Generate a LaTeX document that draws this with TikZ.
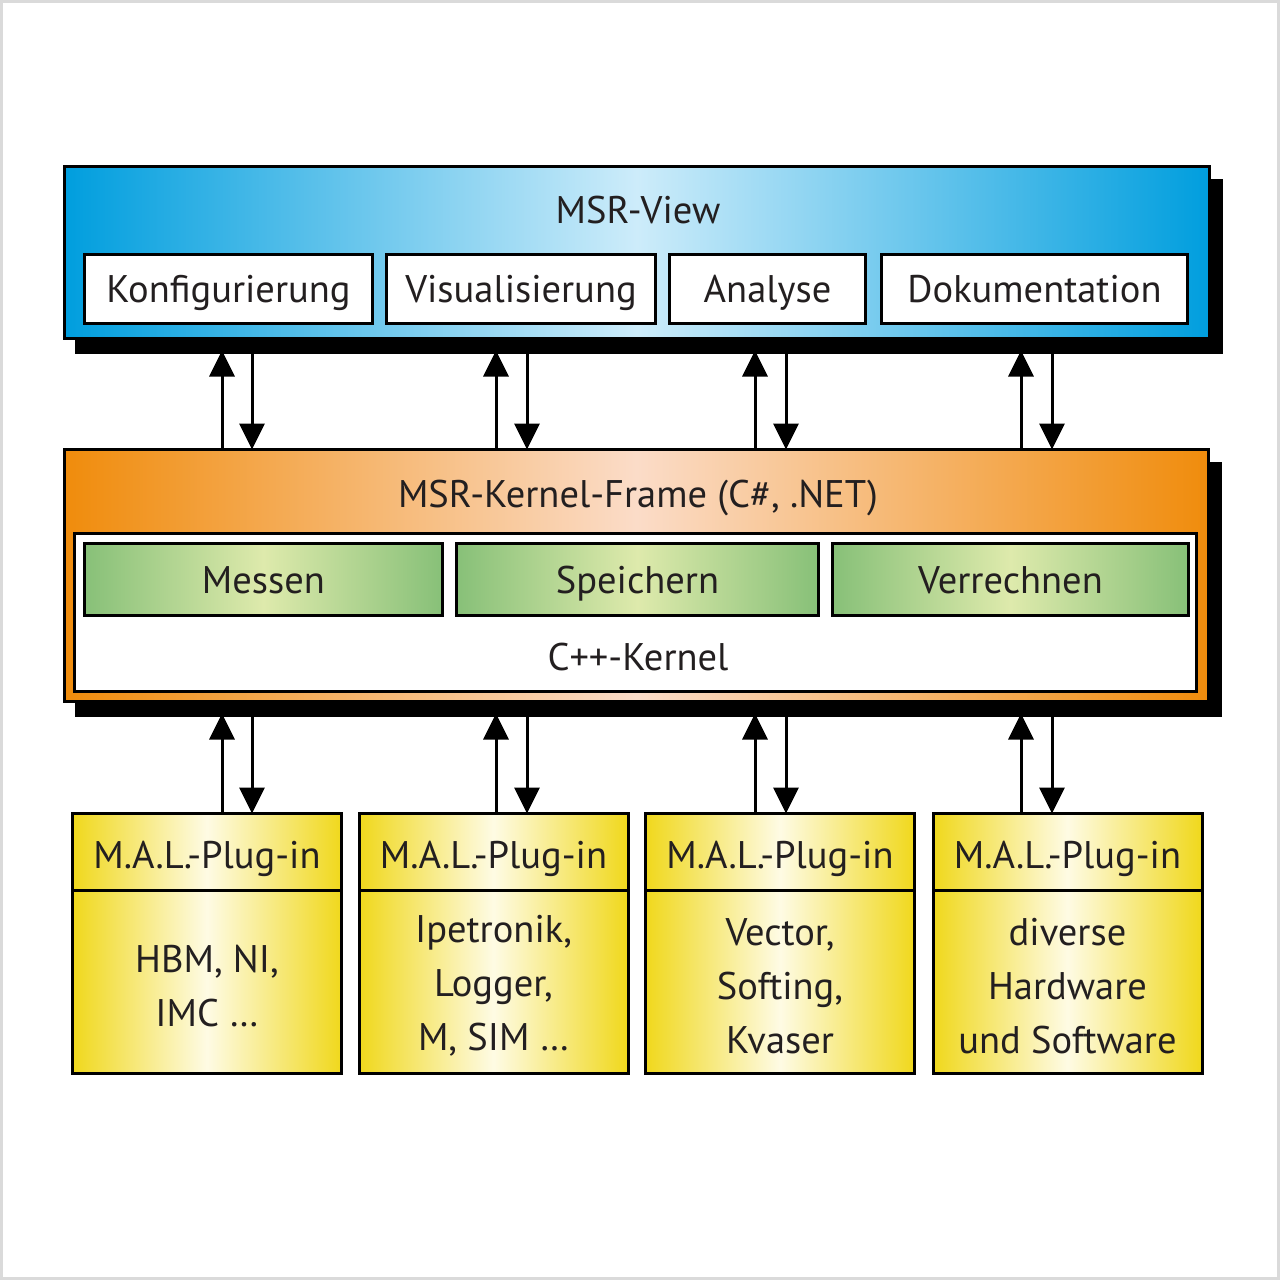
\documentclass[tikz,border=0pt]{standalone}
\usepackage{fontspec}
\setmainfont{PT Sans}
\usetikzlibrary{arrows.meta,positioning,shadows}
\definecolor{ink}{RGB}{35,31,32}
\definecolor{frameG}{RGB}{218,218,218}
\definecolor{blueD}{RGB}{0,158,222}
\definecolor{blueL}{RGB}{205,236,250}
\definecolor{orD}{RGB}{240,140,12}
\definecolor{orL}{RGB}{251,220,200}
\definecolor{grD}{RGB}{135,192,120}
\definecolor{grL}{RGB}{222,234,172}
\definecolor{yeD}{RGB}{240,216,28}
\definecolor{yeL}{RGB}{254,251,228}
\tikzset{
  box/.style={draw=black, line width=3pt, inner sep=0pt, outer sep=0pt},
  shadowed/.style={general shadow={fill=black, draw=black, line width=3pt,
      shadow xshift=12pt, shadow yshift=-14pt}},
  viewbox/.style={box, shadowed, left color=blueD, right color=blueD, middle color=blueL},
  kernbox/.style={box, shadowed, left color=orD, right color=orD, middle color=orL},
  funcbox/.style={box, left color=grD, right color=grD, middle color=grL},
  plugbox/.style={box, left color=yeD, right color=yeD, middle color=yeL},
  whitebox/.style={box, fill=white},
  txt/.style={font=\fontsize{38.5}{54}\selectfont, text=ink, align=center},
  one/.style={txt, text height=27pt, text depth=0pt},
  arr/.style={line width=3pt, draw=black, -{Triangle[width=25pt,length=26pt]}}
}
\begin{document}
\begin{tikzpicture}[x=1pt,y=-1pt]
  \useasboundingbox (0,0) rectangle (1280,1280);
  \draw[frameG, line width=6pt] (0,0) rectangle (1280,1280);

  % top layer
  \node[viewbox, minimum width=1145pt, minimum height=172pt] (view) at (637,252.5) {};
  \node[one] (viewlbl) at (638,210) {MSR-View};
  \node[whitebox, one, minimum width=288pt, minimum height=69pt] (konf) at (228.5,289) {Konfigurierung};
  \node[whitebox, one, minimum width=269pt, minimum height=69pt] (visu) at (521,289) {Visualisierung};
  \node[whitebox, one, minimum width=196pt, minimum height=69pt] (anal) at (767.5,289) {Analyse};
  \node[whitebox, one, minimum width=306pt, minimum height=69pt] (doku) at (1034.5,289) {Dokumentation};

  % kernel frame
  \node[kernbox, minimum width=1144pt, minimum height=252pt] (kernel) at (636.5,575.5) {};
  \node[one] (kernlbl) at (638,494) {MSR-Kernel-Frame (C\#, .NET)};
  \node[whitebox, minimum width=1122pt, minimum height=158pt] (cpp) at (635.5,612.5) {};
  \node[one] (cpplbl) at (638,657) {C++-Kernel};
  \node[funcbox, one, minimum width=358pt, minimum height=72pt] (mess) at (263.5,579.5) {Messen};
  \node[funcbox, one, minimum width=362pt, minimum height=72pt] (spei) at (637.5,579.5) {Speichern};
  \node[funcbox, one, minimum width=356pt, minimum height=72pt] (verr) at (1010.5,579.5) {Verrechnen};

  % plug-ins
  \foreach \i/\x/\t in {1/207/{HBM, NI,\\IMC \dots},
                        2/493.5/{Ipetronik,\\Logger,\\M, SIM \dots},
                        3/780/{Vector,\\Softing,\\Kvaser},
                        4/1067.5/{diverse\\Hardware\\und Software}} {
    \node[plugbox, minimum width=269pt, minimum height=260pt] (plug\i) at (\x,943.5) {};
    \node[one] (head\i) at (\x,855) {M.A.L.-Plug-in};
    \node[txt] (body\i) at (\x,986) {\t};
    \draw[line width=3pt] (plug\i.west |- 0,890) -- (plug\i.east |- 0,890);
  }

  % connectors
  \coordinate (vsh) at ([yshift=-12pt]view.south);
  \coordinate (ksh) at ([yshift=-12pt]kernel.south);
  \foreach \u/\d/\i in {222/252/1, 496/527/2, 755/786/3, 1021/1052/4} {
    \draw[arr] (kernel.north -| \u,0) -- (vsh -| \u,0);
    \draw[arr] (vsh -| \d,0) -- (kernel.north -| \d,0);
    \draw[arr] (plug\i.north -| \u,0) -- (ksh -| \u,0);
    \draw[arr] (ksh -| \d,0) -- (plug\i.north -| \d,0);
  }
\end{tikzpicture}
\end{document}
